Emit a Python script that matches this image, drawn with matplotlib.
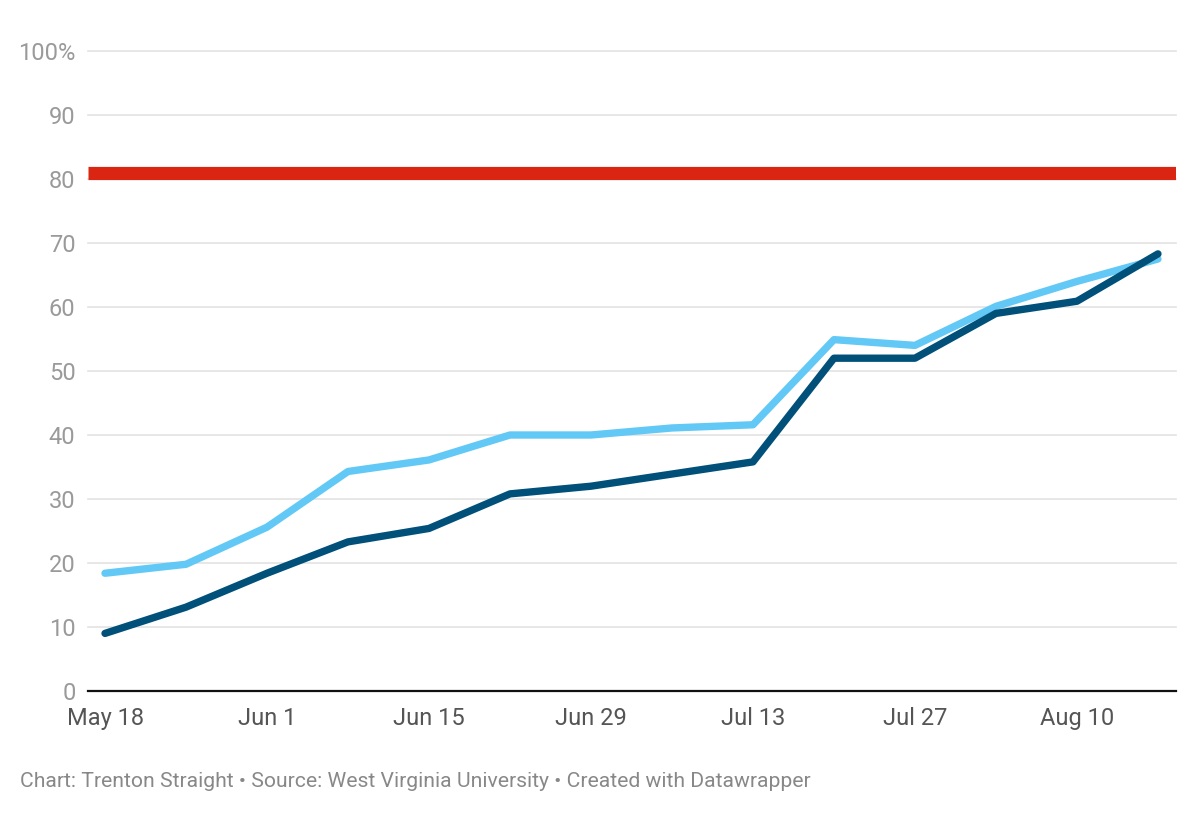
import matplotlib
matplotlib.use("Agg")
import matplotlib.pyplot as plt
import matplotlib.dates as mdates
import numpy as np
import datetime as dt

plt.rcParams['font.family'] = ['Roboto', 'DejaVu Sans']

dates = ["2020-05-18", "2020-05-25", "2020-06-01", "2020-06-08", "2020-06-15",
         "2020-06-22", "2020-06-29", "2020-07-06", "2020-07-13", "2020-07-20",
         "2020-07-27", "2020-08-03", "2020-08-10", "2020-08-17"]
light_series = [18.4, 19.8, 25.6, 34.3, 36.1, 40.0, 40.0, 41.1, 41.6, 54.9, 54.0, 60.1, 64.0, 67.5]
dark_series = [9.0, 13.1, 18.4, 23.3, 25.4, 30.8, 32.0, 33.9, 35.8, 52.0, 52.0, 59.0, 60.9, 68.3]
target_value = 81
xtick_dates = ["2020-05-18", "2020-06-01", "2020-06-15", "2020-06-29", "2020-07-13", "2020-07-27", "2020-08-10"]
xtick_labels = ["May 18", "Jun 1", "Jun 15", "Jun 29", "Jul 13", "Jul 27", "Aug 10"]
ytick_values = [0, 10, 20, 30, 40, 50, 60, 70, 80, 90, 100]
ytick_labels = ["0", "10", "20", "30", "40", "50", "60", "70", "80", "90", "100%"]
footer = "Chart: Trenton Straight \u2022 Source: West Virginia University \u2022 Created with Datawrapper"

x = [dt.datetime.strptime(d, "%Y-%m-%d") for d in dates]
xt = [dt.datetime.strptime(d, "%Y-%m-%d") for d in xtick_dates]

fig = plt.figure(figsize=(12, 8.13), dpi=100)
ax = fig.add_axes([88/1200, 1-691/813, (1176-88)/1200, (691-51)/813])

ax.set_ylim(0, 100)
x0 = mdates.date2num(x[0])
ax.set_xlim(x0 - 1.47, x0 + 92.56)

for v in ytick_values[1:]:
    ax.axhline(v, color='#e3e3e3', lw=1.2, zorder=1, clip_on=False)
ax.axhline(target_value, color='#d92511', lw=9.5, zorder=2, solid_capstyle='butt')

ax.plot(x, light_series, color='#62c8f5', lw=5.3, solid_capstyle='round', solid_joinstyle='round', zorder=3)
ax.plot(x, dark_series, color='#00507a', lw=5.3, solid_capstyle='round', solid_joinstyle='round', zorder=4)

for s in ['top', 'right', 'left']:
    ax.spines[s].set_visible(False)
ax.spines['bottom'].set_color('#111111')
ax.spines['bottom'].set_linewidth(1.6)
ax.spines['bottom'].set_zorder(5)

ax.set_yticks(ytick_values)
ax.set_yticklabels(ytick_labels)
ax.set_xticks(xt)
ax.set_xticklabels(xtick_labels)
ax.tick_params(axis='y', length=0, pad=9, labelsize=17, labelcolor='#9a9a9a')
ax.tick_params(axis='x', length=0, pad=11.5, labelsize=17, labelcolor='#555555')

fig.text(20/1200, 1-781/813, footer, fontsize=15.2, color='#888888', va='center', ha='left')

fig.savefig("out.png", dpi=100, facecolor='white')
